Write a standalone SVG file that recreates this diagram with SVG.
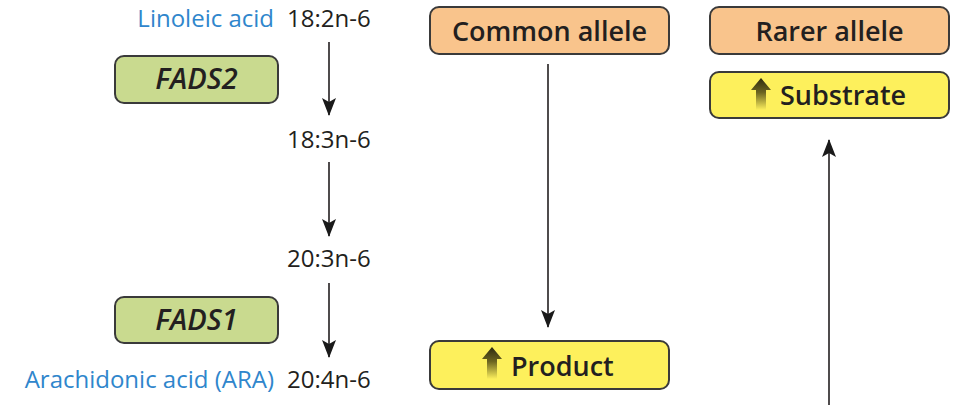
<svg xmlns="http://www.w3.org/2000/svg" width="956" height="405" viewBox="0 0 956 405">
  <style>
    .box { stroke: #3a3a3a; stroke-width: 2; }
    .allele { fill: #f9c48c; }
    .level { fill: #fdf05c; }
    .gene { fill: #c9da8f; }
    .lbl { font-family: "Open Sans", "Liberation Sans", sans-serif; font-weight: 600; fill: #231f20; font-size: 27px; }
    .gname { font-family: "Open Sans", "Liberation Sans", sans-serif; font-weight: 600; font-style: italic; fill: #231f20; font-size: 29px; }
    .fa { font-family: "Open Sans", "Liberation Sans", sans-serif; font-size: 24px; fill: #231f20; }
    .name { font-family: "Open Sans", "Liberation Sans", sans-serif; font-size: 24px; fill: #2f86cc; text-anchor: end; }
    .conn { stroke: #231f20; stroke-width: 1.6; fill: none; }
  </style>
  <defs>
    <marker id="head" viewBox="0 0 18 14" refX="17" refY="7" markerWidth="18" markerHeight="14" markerUnits="userSpaceOnUse" orient="auto">
      <path d="M0,0 L18,7 L0,14 L4,7 Z" fill="#1a1a1a"/>
    </marker>
    <linearGradient id="upfade" x1="0" y1="0" x2="0" y2="1">
      <stop offset="0" stop-color="#2d2a10"/>
      <stop offset="0.45" stop-color="#6b6420"/>
      <stop offset="1" stop-color="#fdf05c"/>
    </linearGradient>
    <path id="uparrow" d="M10,0 L20,12 L15,12 L15,32 L5,32 L5,12 L0,12 Z" fill="url(#upfade)"/>
  </defs>

  <!-- fatty acid names and shorthand -->
  <g id="fatty-acids">
    <text class="name" x="274" y="27">Linoleic acid</text>
    <text class="fa" x="287" y="27">18:2n-6</text>
    <text class="fa" x="287" y="148">18:3n-6</text>
    <text class="fa" x="287" y="267">20:3n-6</text>
    <text class="name" x="274" y="388">Arachidonic acid (ARA)</text>
    <text class="fa" x="287" y="388">20:4n-6</text>
  </g>

  <g id="fads2">
    <rect class="box gene" x="115" y="56" width="163" height="47" rx="9"/>
    <text class="gname" x="196.5" y="89" text-anchor="middle">FADS2</text>
  </g>

  <g id="fads1">
    <rect class="box gene" x="115" y="297" width="163" height="46" rx="9"/>
    <text class="gname" x="196.5" y="330" text-anchor="middle">FADS1</text>
  </g>

  <g id="common-allele">
    <rect class="box allele" x="430" y="7" width="239" height="47" rx="9"/>
    <text class="lbl" x="549.5" y="41" text-anchor="middle">Common allele</text>
  </g>

  <g id="rarer-allele">
    <rect class="box allele" x="710" y="7" width="239" height="47" rx="9"/>
    <text class="lbl" x="829.5" y="41" text-anchor="middle">Rarer allele</text>
  </g>

  <g id="substrate">
    <rect class="box level" x="710" y="72" width="239" height="46" rx="9"/>
    <use href="#uparrow" x="751" y="78"/>
    <text class="lbl" x="780" y="105">Substrate</text>
  </g>

  <g id="product">
    <rect class="box level" x="430" y="341" width="239" height="48" rx="9"/>
    <use href="#uparrow" x="482" y="347"/>
    <text class="lbl" x="511" y="376">Product</text>
  </g>

  <g id="connectors">
    <line class="conn" x1="329" y1="42" x2="329" y2="115" marker-end="url(#head)"/>
    <line class="conn" x1="329" y1="162" x2="329" y2="236" marker-end="url(#head)"/>
    <line class="conn" x1="329" y1="283" x2="329" y2="357" marker-end="url(#head)"/>
    <line class="conn" x1="548" y1="64" x2="548" y2="327" marker-end="url(#head)"/>
    <line class="conn" x1="829" y1="405" x2="829" y2="140" marker-end="url(#head)"/>
  </g>
</svg>
